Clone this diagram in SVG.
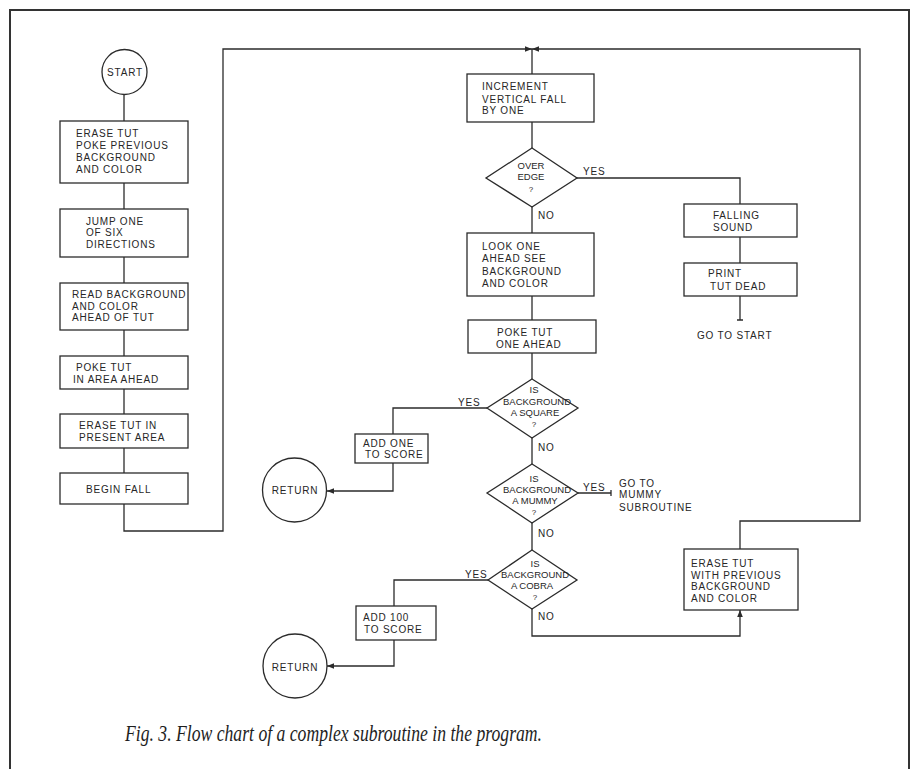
<svg xmlns="http://www.w3.org/2000/svg" width="910" height="769" viewBox="0 0 910 769">
<style>
.ln{fill:none;stroke:#2b2b2b;stroke-width:1.3}
.bx{fill:#fff;stroke:#2b2b2b;stroke-width:1.3}
.t{font-family:"Liberation Sans",Arial,sans-serif;font-size:10px;letter-spacing:0.8px;fill:#262626}
.d{font-family:"Liberation Sans",Arial,sans-serif;font-size:9.5px;letter-spacing:0;fill:#262626;text-anchor:middle}
.q{font-size:8px}
.c{text-anchor:middle}
.cap{font-family:"Liberation Serif","Times New Roman",serif;font-style:italic;font-size:23px;fill:#1e1e1e}
</style>
<defs>
<marker id="ah" viewBox="0 0 10 10" refX="10" refY="5" markerWidth="7" markerHeight="7" markerUnits="userSpaceOnUse" orient="auto"><path d="M0,1 L10,5 L0,9 z" fill="#2b2b2b"/></marker>
</defs>
<rect width="910" height="769" fill="#fff"/>
<path d="M10,769 V10 H909 V769" fill="none" stroke="#333" stroke-width="2"/>

<g id="connectors">
<path class="ln" d="M124,94 V121"/>
<path class="ln" d="M124,183 V209"/>
<path class="ln" d="M124,257 V283"/>
<path class="ln" d="M124,330 V356"/>
<path class="ln" d="M124,389 V414"/>
<path class="ln" d="M124,448 V473"/>
<path class="ln" d="M124,504 V531 H223 V49 H532" marker-end="url(#ah)"/>
<path class="ln" d="M740,549 V521 H860 V49 H532" marker-end="url(#ah)"/>
<path class="ln" d="M532,49 V74"/>
<path class="ln" d="M532,122 V148"/>
<path class="ln" d="M577,178 H740 V204"/>
<path class="ln" d="M532,207 V233"/>
<path class="ln" d="M740,237 V263"/>
<path class="ln" d="M740,296 V320 M737,320 H743"/>
<path class="ln" d="M532,296 V320"/>
<path class="ln" d="M532,353 V379"/>
<path class="ln" d="M487,408 H393 V434"/>
<path class="ln" d="M393,463 V491 H327" marker-end="url(#ah)"/>
<path class="ln" d="M532,438 V464"/>
<path class="ln" d="M578,493 H611 M611,490 V496"/>
<path class="ln" d="M532,523 V550"/>
<path class="ln" d="M488,580 H394 V606"/>
<path class="ln" d="M394,640 V666 H327" marker-end="url(#ah)"/>
<path class="ln" d="M532,609 V636 H740 V610" marker-end="url(#ah)"/>
</g>

<g id="labels">
<text class="t" x="583" y="175">YES</text>
<text class="t" x="538" y="219">NO</text>
<text class="t" x="458" y="406">YES</text>
<text class="t" x="538" y="451">NO</text>
<text class="t" x="583" y="491">YES</text>
<text class="t" x="538" y="537">NO</text>
<text class="t" x="465" y="578">YES</text>
<text class="t" x="538" y="620">NO</text>
<text class="t" x="697" y="339">GO TO START</text>
<text class="t" x="619" y="487">GO TO</text>
<text class="t" x="619" y="498">MUMMY</text>
<text class="t" x="619" y="511">SUBROUTINE</text>
</g>

<g id="start">
<circle class="bx" cx="124.5" cy="72" r="22.5"/>
<text class="t c" x="125" y="76">START</text>
</g>
<g id="erase-poke">
<rect class="bx" x="60" y="121" width="128" height="62"/>
<text class="t" x="76" y="137">ERASE TUT</text>
<text class="t" x="76" y="149">POKE PREVIOUS</text>
<text class="t" x="76" y="161">BACKGROUND</text>
<text class="t" x="76" y="173">AND COLOR</text>
</g>
<g id="jump">
<rect class="bx" x="60" y="209" width="128" height="48"/>
<text class="t" x="86" y="225">JUMP ONE</text>
<text class="t" x="86" y="236">OF SIX</text>
<text class="t" x="86" y="248">DIRECTIONS</text>
</g>
<g id="read">
<rect class="bx" x="60" y="283" width="128" height="47"/>
<text class="t" x="72" y="298">READ BACKGROUND</text>
<text class="t" x="72" y="310">AND COLOR</text>
<text class="t" x="72" y="321">AHEAD OF TUT</text>
</g>
<g id="poke-area">
<rect class="bx" x="60" y="356" width="128" height="33"/>
<text class="t" x="76" y="371">POKE TUT</text>
<text class="t" x="73" y="383">IN AREA AHEAD</text>
</g>
<g id="erase-present">
<rect class="bx" x="60" y="414" width="128" height="34"/>
<text class="t" x="79" y="429">ERASE TUT IN</text>
<text class="t" x="79" y="441">PRESENT AREA</text>
</g>
<g id="begin-fall">
<rect class="bx" x="60" y="473" width="128" height="31"/>
<text class="t" x="86" y="493">BEGIN FALL</text>
</g>

<g id="increment">
<rect class="bx" x="467" y="74" width="127" height="48"/>
<text class="t" x="482" y="90">INCREMENT</text>
<text class="t" x="482" y="103">VERTICAL FALL</text>
<text class="t" x="482" y="114">BY ONE</text>
</g>
<g id="over-edge">
<polygon class="bx" points="532,148 577,178 532,207 486,178"/>
<text class="d" x="531" y="169">OVER</text>
<text class="d" x="531" y="180">EDGE</text>
<text class="d q" x="531" y="192">?</text>
</g>
<g id="falling">
<rect class="bx" x="684" y="204" width="113" height="33"/>
<text class="t" x="713" y="219">FALLING</text>
<text class="t" x="713" y="231">SOUND</text>
</g>
<g id="print">
<rect class="bx" x="684" y="263" width="113" height="33"/>
<text class="t" x="708" y="277">PRINT</text>
<text class="t" x="710" y="290">TUT DEAD</text>
</g>
<g id="look">
<rect class="bx" x="467" y="233" width="127" height="63"/>
<text class="t" x="482" y="250">LOOK ONE</text>
<text class="t" x="482" y="262">AHEAD SEE</text>
<text class="t" x="482" y="275">BACKGROUND</text>
<text class="t" x="482" y="287">AND COLOR</text>
</g>
<g id="poke-one">
<rect class="bx" x="468" y="320" width="128" height="33"/>
<text class="t" x="497" y="336">POKE TUT</text>
<text class="t" x="496" y="348">ONE AHEAD</text>
</g>
<g id="square">
<polygon class="bx" points="532,379 578,408 532,438 487,408"/>
<text class="d" x="534" y="393">IS</text>
<text class="d" x="537" y="405">BACKGROUND</text>
<text class="d" x="535" y="416">A SQUARE</text>
<text class="d q" x="534" y="427">?</text>
</g>
<g id="add-one">
<rect class="bx" x="355" y="434" width="73" height="29"/>
<text class="t" x="363" y="447">ADD ONE</text>
<text class="t" x="365" y="458">TO SCORE</text>
</g>
<g id="return1">
<circle class="bx" cx="294.5" cy="490" r="32"/>
<text class="t c" x="295" y="494">RETURN</text>
</g>
<g id="mummy">
<polygon class="bx" points="532,464 578,493 532,523 487,493"/>
<text class="d" x="534" y="482">IS</text>
<text class="d" x="537" y="493">BACKGROUND</text>
<text class="d" x="535" y="504">A MUMMY</text>
<text class="d q" x="534" y="515">?</text>
</g>
<g id="cobra">
<polygon class="bx" points="532,550 577,580 532,609 488,580"/>
<text class="d" x="535" y="567">IS</text>
<text class="d" x="535" y="578">BACKGROUND</text>
<text class="d" x="532" y="589">A COBRA</text>
<text class="d q" x="535" y="600">?</text>
</g>
<g id="add-100">
<rect class="bx" x="356" y="606" width="80" height="34"/>
<text class="t" x="363" y="621">ADD 100</text>
<text class="t" x="364" y="633">TO SCORE</text>
</g>
<g id="return2">
<circle class="bx" cx="295" cy="666" r="32"/>
<text class="t c" x="295" y="671">RETURN</text>
</g>
<g id="erase-with">
<rect class="bx" x="684" y="549" width="114" height="61"/>
<text class="t" x="691" y="567">ERASE TUT</text>
<text class="t" x="691" y="579">WITH PREVIOUS</text>
<text class="t" x="691" y="590">BACKGROUND</text>
<text class="t" x="691" y="602">AND COLOR</text>
</g>

<text class="cap" x="125" y="741" textLength="417" lengthAdjust="spacingAndGlyphs">Fig. 3. Flow chart of a complex subroutine in the program.</text>
</svg>
